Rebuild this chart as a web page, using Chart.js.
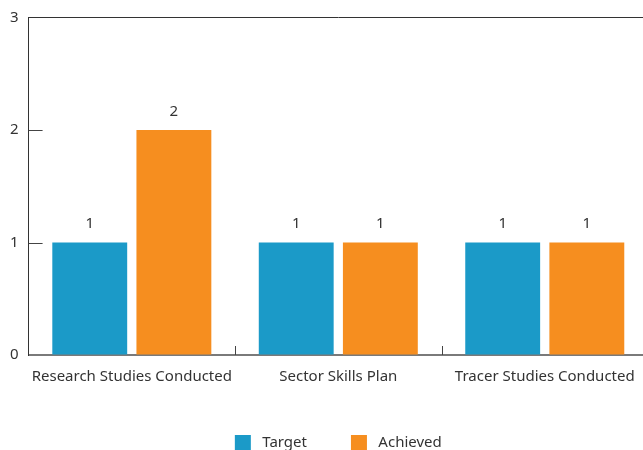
<!DOCTYPE html>
<html>
<head>
<meta charset="utf-8">
<script src="https://cdn.jsdelivr.net/npm/chart.js@4/dist/chart.umd.min.js"></script>
<style>
  html, body { margin: 0; padding: 0; background: #fff; overflow: hidden; }
  #wrap { width: 648px; height: 461px; }
</style>
</head>
<body>
<div id="wrap"><canvas id="chart"></canvas></div>
<script>
const categories = ["Research Studies Conducted", "Sector Skills Plan", "Tracer Studies Conducted"];
const seriesNames = ["Target", "Achieved"];
const targetValues = [1, 1, 1];
const achievedValues = [2, 1, 1];
const yTicks = [0, 1, 2, 3];

const TEXT = "#333333";
const FONT = "'Noto Sans', 'Open Sans', sans-serif";

// short tick marks drawn inside the plot area, plus the value labels over each bar
const decorations = {
  id: "decorations",
  afterDatasetsDraw(chart) {
    const { ctx, chartArea, scales } = chart;
    const x = scales.x, y = scales.y;
    ctx.save();
    ctx.strokeStyle = "#444";
    ctx.lineWidth = 1;
    yTicks.slice(1, -1).forEach((v) => {
      const py = Math.round(y.getPixelForValue(v)) + 0.5;
      ctx.beginPath();
      ctx.moveTo(chartArea.left, py);
      ctx.lineTo(chartArea.left + 14, py);
      ctx.stroke();
    });
    for (let i = 1; i < categories.length; i++) {
      const px = Math.round((x.getPixelForValue(i - 1) + x.getPixelForValue(i)) / 2) + 0.5;
      ctx.beginPath();
      ctx.moveTo(px, chartArea.bottom);
      ctx.lineTo(px, chartArea.bottom - 9);
      ctx.stroke();
    }
    ctx.fillStyle = TEXT;
    ctx.font = "15px " + FONT;
    ctx.textAlign = "center";
    ctx.textBaseline = "bottom";
    chart.data.datasets.forEach((ds, di) => {
      chart.getDatasetMeta(di).data.forEach((bar, i) => {
        ctx.fillText(String(ds.data[i]), bar.x, bar.y - 11);
      });
    });
    ctx.restore();
  }
};

new Chart(document.getElementById("chart"), {
  type: "bar",
  data: {
    labels: categories,
    datasets: [
      { label: seriesNames[0], data: targetValues, backgroundColor: "#1b9ac8" },
      { label: seriesNames[1], data: achievedValues, backgroundColor: "#f68e1f" }
    ]
  },
  options: {
    responsive: true,
    maintainAspectRatio: false,
    animation: false,
    categoryPercentage: 0.815,
    barPercentage: 0.89,
    layout: { padding: { top: 13, left: 0, right: 0, bottom: 0 } },
    plugins: {
      tooltip: { enabled: false },
      legend: {
        position: "bottom",
        fullSize: false,
        labels: {
          color: TEXT,
          boxWidth: 16,
          boxHeight: 16,
          padding: 44,
          font: { family: FONT, size: 15 },
          generateLabels: (chart) =>
            Chart.defaults.plugins.legend.labels.generateLabels(chart).map((l) => ({ ...l, text: " " + l.text }))
        }
      }
    },
    scales: {
      x: {
        grid: { display: false },
        border: { display: true, color: "#7a7a7a", width: 2 },
        ticks: { color: TEXT, padding: 5, font: { family: FONT, size: 15 } }
      },
      y: {
        min: 0,
        max: 3,
        afterBuildTicks: (scale) => { scale.ticks = yTicks.map((v) => ({ value: v })); },
        grid: {
          drawTicks: false,
          color: (c) => (c.tick && c.tick.value === 3 ? "#333" : "rgba(0,0,0,0)")
        },
        border: { display: true, color: "#333", width: 1 },
        ticks: { color: TEXT, padding: 10, font: { family: FONT, size: 15, lineHeight: 1 } }
      }
    }
  },
  plugins: [decorations]
});
</script>
</body>
</html>
